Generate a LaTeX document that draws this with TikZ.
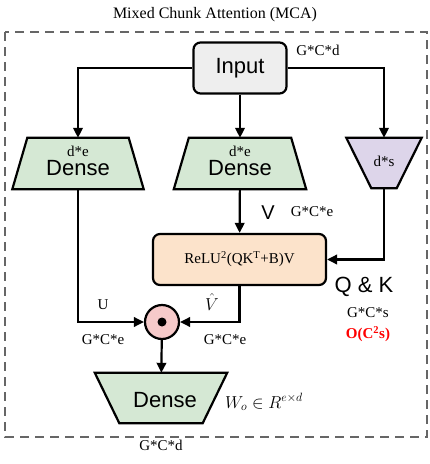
\documentclass[tikz,border=0pt]{standalone}
\usepackage{fontspec}
\setmainfont{Liberation Serif}
\setsansfont{Liberation Sans}
\usetikzlibrary{arrows.meta,positioning,backgrounds}

\definecolor{inputgray}{HTML}{EEEEEE}
\definecolor{densegreen}{HTML}{D5E8D4}
\definecolor{qkpurple}{HTML}{DDD5EA}
\definecolor{relupeach}{HTML}{FCE3CB}
\definecolor{multpink}{HTML}{F6CACA}
\definecolor{framegray}{HTML}{666666}

\begin{document}
\begin{tikzpicture}[x=1pt,y=-1pt,
    box/.style={draw, line width=2.2pt, rounded corners=7pt, inner sep=0pt},
    layer/.style={inner sep=0pt, minimum height=51pt},
    trap/.style={draw, line width=2.2pt, line join=miter},
    conn/.style={line width=2.2pt, -{Triangle[length=10pt,width=9.5pt]}},
    dim/.style={font=\fontsize{15}{15}\selectfont},
    big/.style={font=\sffamily\fontsize{22}{22}\selectfont}]
    \useasboundingbox (0,0) rectangle (430,464);

    % Frame and title
    \draw[framegray, line width=1.8pt, dash pattern=on 9pt off 6pt] (5,32) rectangle (427,437);
    \node[font=\fontsize{16}{16}\selectfont] (title) at (215,15) {Mixed Chunk Attention (MCA)};

    % Input
    \node[box, fill=inputgray, minimum width=93pt, minimum height=51pt, big] (input) at (240,68) {Input};
    \node[dim] (dimin) at (318,50) {G*C*d};

    % Dense layers (drawn behind, from the layer boxes)
    \node[layer, minimum width=131pt] (denseU) at (78,163.5) {};
    \node[big] (denseUtxt) at (78,168.5) {Dense};
    \node[dim] (denseUdim) at (78,151) {d*e};
    \node[layer, minimum width=132pt] (denseV) at (240,163.5) {};
    \node[big] (denseVtxt) at (240,168.5) {Dense};
    \node[dim] (denseVdim) at (240,151) {d*e};
    \node[layer, minimum width=75pt, minimum height=50pt] (denseQK) at (384,163) {};
    \node[dim] (denseQKdim) at (384,161) {d*s};

    % Attention
    \node[box, fill=relupeach, minimum width=173pt, minimum height=51pt, dim] (relu) at (239.5,259.5)
        {ReLU\textsuperscript{2}(QK\textsuperscript{T}+B)V};
    \node[font=\sffamily\fontsize{20}{20}\selectfont] (vlab) at (268,213) {V};
    \node[dim] (dimv) at (312,212) {G*C*e};
    \node[big] (qk) at (364,287) {Q \& K};
    \node[dim] (dimqk) at (368,313) {G*C*s};
    \node[red, font=\bfseries\fontsize{15}{15}\selectfont] (cost) at (368,334) {O(C\textsuperscript{2}s)};

    % Gating
    \node[circle, draw, line width=2.2pt, fill=multpink, minimum size=34pt, inner sep=0pt] (mult) at (162,322) {};
    \fill (mult.center) circle (4.5pt);
    \node[dim] (ulab) at (103,305) {U};
    \node[font=\fontsize{17}{17}\selectfont] (vhat) at (212,302) {$\hat{V}$};
    \node[dim] (dimu) at (103,340) {G*C*e};
    \node[dim] (dimvh) at (225,340) {G*C*e};

    % Output
    \node[layer, minimum width=132pt, minimum height=50pt] (denseO) at (161,398) {};
    \node[big] (denseOtxt) at (165,400) {Dense};
    \node[font=\fontsize{18}{18}\selectfont] (wo) at (264,402) {$W_o \in R^{e\times d}$};
    \node[dim] (dimout) at (161,445) {G*C*d};

    \begin{scope}[on background layer]
        \draw[trap, fill=densegreen] (denseU.south west) -- (denseU.south east)
            -- ([xshift=-15pt]denseU.north east) -- ([xshift=15pt]denseU.north west) -- cycle;
        \draw[trap, fill=densegreen] (denseV.south west) -- (denseV.south east)
            -- ([xshift=-15pt]denseV.north east) -- ([xshift=15pt]denseV.north west) -- cycle;
        \draw[trap, fill=qkpurple] (denseQK.north west) -- (denseQK.north east)
            -- ([xshift=-25pt]denseQK.south east) -- ([xshift=25pt]denseQK.south west) -- cycle;
        \draw[trap, fill=densegreen] (denseO.north west) -- (denseO.north east)
            -- ([xshift=-24.5pt]denseO.south east) -- ([xshift=24.5pt]denseO.south west) -- cycle;
    \end{scope}

    % Connections
    \draw[conn] (input.west) -| (denseU);
    \draw[conn] (input) -- (denseV);
    \draw[conn] (input.east) -| (denseQK);
    \draw[conn] (denseV) -- (relu);
    \draw[conn] (denseQK) |- (relu);
    \draw[conn] (denseU) |- (mult);
    \draw[conn] (relu) |- (mult);
    \draw[conn] (mult) -- (denseO);
\end{tikzpicture}
\end{document}
